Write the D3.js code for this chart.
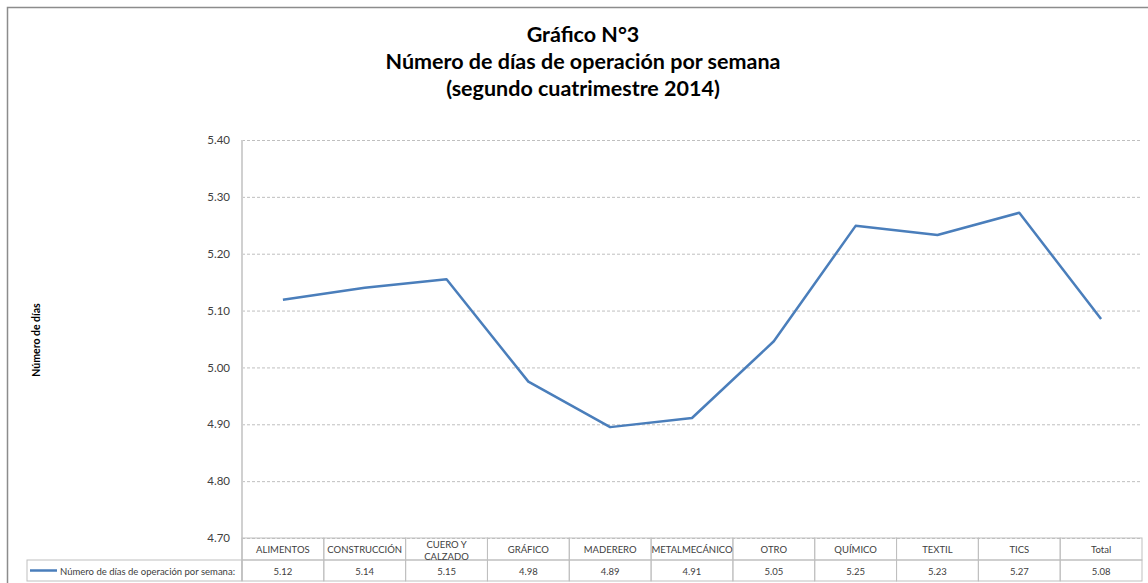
<!DOCTYPE html>
<html>
<head>
<meta charset="utf-8">
<script src="https://cdn.jsdelivr.net/npm/d3@7"></script>
<style>
  body { margin: 0; background: #fff; }
  svg { display: block; font-family: Lato, "Liberation Sans", sans-serif; }
</style>
</head>
<body>
<div id="chart"></div>
<script>
// datos
const categories = ["ALIMENTOS", "CONSTRUCCIÓN", "CUERO Y CALZADO", "GRÁFICO", "MADERERO",
  "METALMECÁNICO", "OTRO", "QUÍMICO", "TEXTIL", "TICS", "Total"];
const values = [5.119, 5.140, 5.155, 4.975, 4.895, 4.911, 5.046, 5.249, 5.233, 5.272, 5.085];
const tableLabels = ["5.12", "5.14", "5.15", "4.98", "4.89", "4.91", "5.05", "5.25", "5.23", "5.27", "5.08"];
const yTicks = [4.70, 4.80, 4.90, 5.00, 5.10, 5.20, 5.30, 5.40];
const seriesName = "Número de días de operación por semana:";
const titleLines = ["Gráfico N°3", "Número de días de operación por semana", "(segundo cuatrimestre 2014)"];

const W = 1148, H = 583;
const plot = { left: 242, right: 1142, top: 140, bottom: 538 };
const headerH = 22, rowH = 21;
const lineColor = "#4a7ebb";
const gridColor = "#bfbfbf";

const svg = d3.select("#chart").append("svg")
  .attr("width", W).attr("height", H);

// marco exterior
svg.append("rect")
  .attr("x", 7.5).attr("y", 7.5)
  .attr("width", W + 20).attr("height", H + 20)
  .attr("fill", "none").attr("stroke", "#8c8c8c").attr("stroke-width", 1.5);

// titulo
svg.append("g").selectAll("text")
  .data(titleLines)
  .enter().append("text")
  .attr("x", 583)
  .attr("y", (d, i) => 42 + i * 27)
  .attr("text-anchor", "middle")
  .style("font-size", "21.5px")
  .style("font-weight", "bold")
  .style("fill", "#000")
  .text(d => d);

// escalas
const x = d3.scaleBand().domain(categories).range([plot.left, plot.right]).padding(0);
const y = d3.scaleLinear().domain([4.7, 5.4]).range([plot.bottom, plot.top]);

// lineas de grilla
svg.append("g")
  .attr("transform", `translate(${plot.left},0)`)
  .call(d3.axisLeft(y).tickValues(yTicks).tickSize(-(plot.right - plot.left)).tickFormat(""))
  .call(g => g.select(".domain").remove())
  .call(g => g.selectAll(".tick line")
    .attr("stroke", gridColor)
    .attr("stroke-dasharray", "3,2")
    .attr("stroke-width", 1));

// eje y
svg.append("g")
  .attr("transform", `translate(${plot.left},0)`)
  .call(d3.axisLeft(y).tickValues(yTicks).tickSize(0).tickPadding(12).tickFormat(d3.format(".2f")))
  .call(g => g.select(".domain").remove())
  .call(g => g.selectAll("text")
    .style("font-size", "11.5px")
    .style("font-family", "Lato, 'Liberation Sans', sans-serif")
    .attr("fill", "#404040"));

svg.append("line")
  .attr("x1", plot.left).attr("x2", plot.left)
  .attr("y1", plot.top).attr("y2", plot.bottom + headerH + rowH)
  .attr("stroke", "#d0d0d0").attr("stroke-width", 2);

// titulo eje y
svg.append("text")
  .attr("transform", `translate(40,340) rotate(-90)`)
  .attr("text-anchor", "middle")
  .style("font-size", "10.5px")
  .style("font-weight", "bold")
  .text("Número de días");

// linea
const line = d3.line()
  .x(d => x(d.cat) + x.bandwidth() / 2)
  .y(d => y(d.val));

const data = categories.map((c, i) => ({ cat: c, val: values[i], label: tableLabels[i] }));

svg.append("path")
  .datum(data)
  .attr("d", line)
  .attr("fill", "none")
  .attr("stroke", lineColor)
  .attr("stroke-width", 2.5)
  .attr("stroke-linejoin", "round");

// tabla de datos
const table = svg.append("g");
const tTop = plot.bottom, tMid = plot.bottom + headerH, tBot = tMid + rowH;

table.selectAll(".hdr")
  .data(data).enter().append("rect")
  .attr("x", d => x(d.cat)).attr("y", tTop)
  .attr("width", x.bandwidth()).attr("height", headerH)
  .attr("fill", "none").attr("stroke", gridColor);

table.selectAll(".val")
  .data(data).enter().append("rect")
  .attr("x", d => x(d.cat)).attr("y", tMid)
  .attr("width", x.bandwidth()).attr("height", rowH)
  .attr("fill", "none").attr("stroke", gridColor);

// encabezados (con salto de linea para CUERO Y CALZADO)
table.selectAll(".hdrtext")
  .data(data).enter().append("text")
  .attr("text-anchor", "middle")
  .style("font-size", "9.5px")
  .attr("fill", "#404040")
  .each(function (d) {
    const cx = x(d.cat) + x.bandwidth() / 2;
    const parts = d.cat === "CUERO Y CALZADO" ? ["CUERO Y", "CALZADO"] : [d.cat];
    const t = d3.select(this);
    parts.forEach((p, i) => {
      t.append("tspan")
        .attr("x", cx)
        .attr("y", parts.length > 1 ? tTop + 10 + i * 12 : tTop + 15)
        .text(p);
    });
  });

table.selectAll(".valtext")
  .data(data).enter().append("text")
  .attr("x", d => x(d.cat) + x.bandwidth() / 2)
  .attr("y", tMid + 14.5)
  .attr("text-anchor", "middle")
  .style("font-size", "9.5px")
  .attr("fill", "#404040")
  .text(d => d.label);

// celda de leyenda
table.append("rect")
  .attr("x", 27).attr("y", tMid)
  .attr("width", plot.left - 27).attr("height", rowH)
  .attr("fill", "none").attr("stroke", gridColor);

table.append("line")
  .attr("x1", 30).attr("x2", 57)
  .attr("y1", tMid + 10.5).attr("y2", tMid + 10.5)
  .attr("stroke", lineColor).attr("stroke-width", 2.5);

table.append("text")
  .attr("x", 60).attr("y", tMid + 14.5)
  .style("font-size", "9.5px")
  .attr("fill", "#404040")
  .text(seriesName);
</script>
</body>
</html>
